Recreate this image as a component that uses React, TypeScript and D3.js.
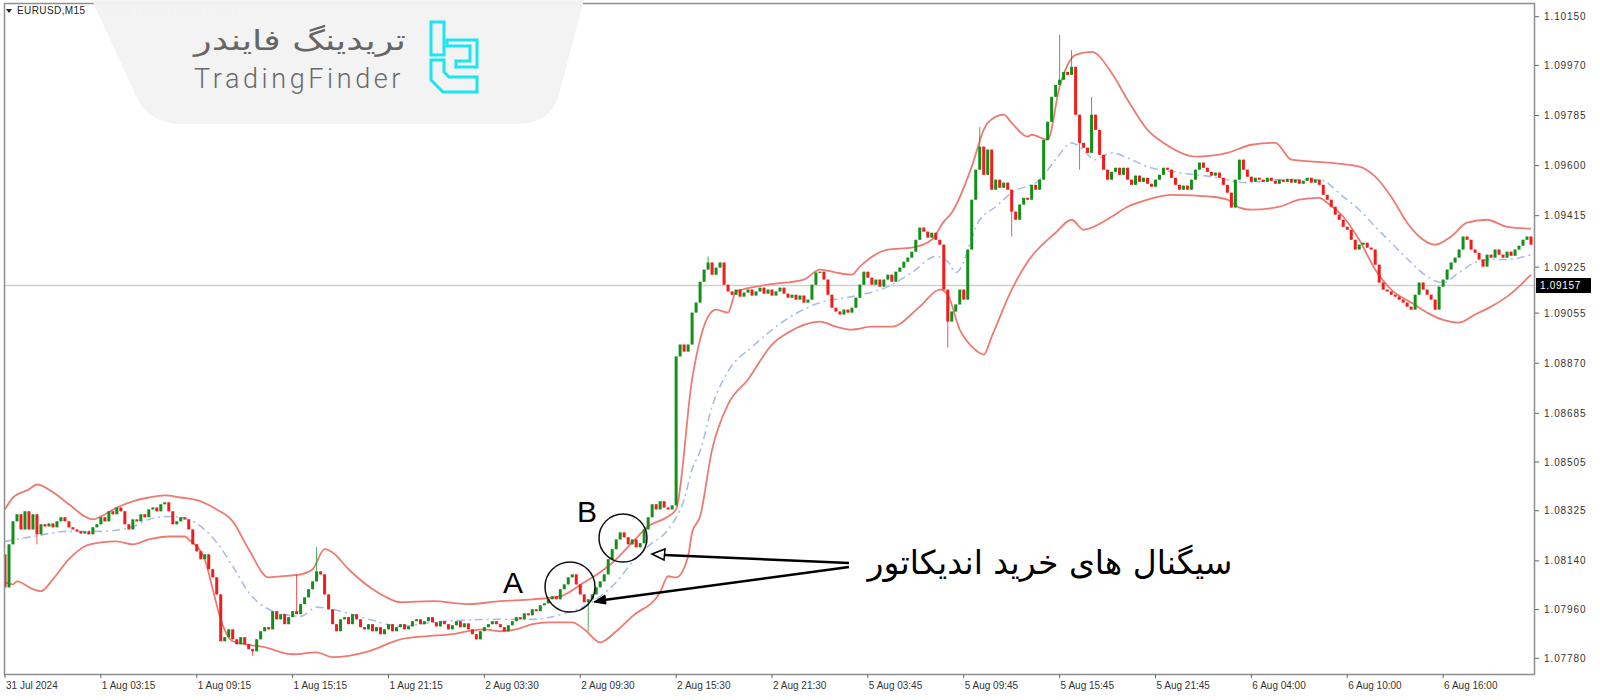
import React from "react";
import * as d3 from "d3";

const symbolTitle = "EURUSD,M15";
const headerFaint = "1.09170 1.09184 1.09147 1.09157";
const yTickLabels = ["1.10150","1.09970","1.09785","1.09600","1.09415","1.09225","1.09055","1.08870","1.08685","1.08505","1.08325","1.08140","1.07960","1.07780"];
const xTickLabels = ["31 Jul 2024","1 Aug 03:15","1 Aug 09:15","1 Aug 15:15","1 Aug 21:15","2 Aug 03:30","2 Aug 09:30","2 Aug 15:30","2 Aug 21:30","5 Aug 03:45","5 Aug 09:45","5 Aug 15:45","5 Aug 21:45","6 Aug 04:00","6 Aug 10:00","6 Aug 16:00"];
const barsPerLabel = 24;
const bidPrice = 1.09157;
const firstOpen = 1.08164;

const closes = [
1.08042,1.08201,1.08286,1.08312,1.08256,1.08323,1.08256,1.08312,1.08238,1.08275,
1.08267,1.08278,1.08264,1.08286,1.08301,1.08286,1.08264,1.08256,1.08249,1.08241,
1.08249,1.08238,1.08264,1.08275,1.08301,1.08286,1.08323,1.08312,1.08337,1.08323,
1.08275,1.08256,1.08293,1.08286,1.08312,1.08301,1.08330,1.08337,1.08323,1.08349,
1.08356,1.08323,1.08275,1.08286,1.08301,1.08293,1.08256,1.08201,1.08175,1.08146,
1.08164,1.08109,1.08079,1.08016,1.07843,1.07858,1.07887,1.07850,1.07832,1.07858,
1.07832,1.07814,1.07806,1.07850,1.07880,1.07895,1.07887,1.07954,1.07924,1.07943,
1.07906,1.07932,1.07954,1.07943,1.07980,1.08005,1.08035,1.08064,1.08101,1.08090,
1.08016,1.07961,1.07906,1.07880,1.07924,1.07932,1.07906,1.07943,1.07924,1.07895,
1.07887,1.07906,1.07880,1.07895,1.07869,1.07887,1.07906,1.07880,1.07895,1.07906,
1.07887,1.07898,1.07917,1.07924,1.07906,1.07917,1.07932,1.07913,1.07898,1.07917,
1.07906,1.07887,1.07902,1.07917,1.07895,1.07909,1.07887,1.07869,1.07850,1.07880,
1.07895,1.07906,1.07917,1.07906,1.07895,1.07880,1.07902,1.07917,1.07932,1.07924,
1.07946,1.07939,1.07961,1.07954,1.07976,1.07983,1.07998,1.08009,1.07998,1.08035,
1.08053,1.08079,1.08090,1.08053,1.08016,1.07987,1.07998,1.08016,1.08042,1.08064,
1.08090,1.08146,1.08183,1.08219,1.08245,1.08227,1.08201,1.08219,1.08190,1.08205,
1.08256,1.08301,1.08349,1.08330,1.08360,1.08337,1.08330,1.08345,1.08895,1.08939,
1.08913,1.08939,1.09057,1.09094,1.09171,1.09216,1.09242,1.09197,1.09223,1.09242,
1.09160,1.09135,1.09123,1.09142,1.09116,1.09131,1.09142,1.09120,1.09135,1.09149,
1.09127,1.09142,1.09120,1.09135,1.09149,1.09127,1.09112,1.09123,1.09105,1.09120,
1.09094,1.09105,1.09160,1.09205,1.09208,1.09179,1.09123,1.09075,1.09061,1.09050,
1.09068,1.09057,1.09075,1.09112,1.09160,1.09208,1.09186,1.09160,1.09179,1.09153,
1.09179,1.09197,1.09171,1.09208,1.09223,1.09245,1.09260,1.09282,1.09326,1.09371,
1.09356,1.09334,1.09352,1.09326,1.09308,1.09142,1.09024,1.09061,1.09087,1.09142,
1.09105,1.09290,1.09474,1.09585,1.09670,1.09566,1.09659,1.09511,1.09548,1.09518,
1.09537,1.09511,1.09430,1.09400,1.09456,1.09481,1.09474,1.09529,1.09511,1.09548,
1.09695,1.09762,1.09854,1.09898,1.09917,1.09946,1.09935,1.09965,1.09788,1.09684,
1.09666,1.09647,1.09788,1.09732,1.09640,1.09585,1.09548,1.09577,1.09592,1.09566,
1.09592,1.09548,1.09529,1.09563,1.09540,1.09555,1.09533,1.09522,1.09548,1.09566,
1.09592,1.09585,1.09555,1.09529,1.09511,1.09526,1.09511,1.09548,1.09585,1.09611,
1.09592,1.09577,1.09563,1.09574,1.09555,1.09529,1.09500,1.09445,1.09548,1.09622,
1.09585,1.09559,1.09540,1.09555,1.09548,1.09540,1.09555,1.09544,1.09533,1.09548,
1.09540,1.09551,1.09537,1.09548,1.09533,1.09544,1.09555,1.09537,1.09548,1.09529,
1.09492,1.09474,1.09448,1.09419,1.09400,1.09374,1.09363,1.09326,1.09290,1.09308,
1.09315,1.09297,1.09290,1.09234,1.09168,1.09142,1.09135,1.09123,1.09116,1.09105,
1.09094,1.09079,1.09068,1.09123,1.09168,1.09142,1.09123,1.09105,1.09068,1.09153,
1.09179,1.09216,1.09242,1.09260,1.09290,1.09338,1.09326,1.09290,1.09278,1.09253,
1.09227,1.09271,1.09260,1.09290,1.09271,1.09260,1.09282,1.09267,1.09290,1.09304,
1.09326,1.09338,1.09308
];

// [bar, high, low] for the longer wicks visible in the picture
const wicks: [number, number | null, number | null][] = [
  [8, null, 1.08201], [62, null, 1.07788], [73, 1.0809, null], [78, 1.0819, null],
  [146, null, 1.0788], [176, 1.09264, null], [236, null, 1.08928], [244, 1.09743, null],
  [252, null, 1.09338], [264, 1.10083, null], [267, 1.10027, null], [269, null, 1.09585],
  [272, 1.09854, null],
];

const upperBand: [number, number][] = [
[0,1.0833],[2,1.08374],[6,1.08404],[8,1.08422],[12,1.08393],[16,1.08349],[20,1.08304],[22,1.08293],
[24,1.08304],[28,1.08337],[32,1.0836],[36,1.08374],[40,1.08382],[44,1.08374],[49,1.0836],[53,1.0833],
[57,1.08286],[61,1.08183],[66,1.08079],[69,1.08083],[74,1.0809],[77,1.08109],[80,1.08183],[82,1.08171],
[86,1.08109],[91,1.08046],[95,1.08009],[99,1.07987],[107,1.07991],[116,1.0798],[124,1.07991],[132,1.07998],
[139,1.08009],[145,1.08061],[149,1.08098],[153,1.08146],[157,1.08208],[161,1.08267],[166,1.08304],[168,1.0833],
[172,1.0881],[176,1.09042],[178,1.09068],[181,1.09057],[183,1.09135],[191,1.0916],[200,1.09179],[204,1.09216],
[208,1.09205],[212,1.09197],[214,1.09227],[221,1.0929],[227,1.09297],[232,1.09326],[235,1.09393],[237,1.09426],
[242,1.09596],[245,1.09732],[246,1.09758],[250,1.09788],[252,1.09758],[256,1.09707],[257,1.09714],[261,1.09695],
[264,1.09891],[268,1.10009],[272,1.1002],[277,1.09943],[281,1.09843],[286,1.09732],[290,1.09684],[298,1.09633],
[306,1.09647],[312,1.09677],[318,1.09684],[322,1.09622],[331,1.09611],[339,1.09596],[343,1.09559],[347,1.09485],
[351,1.09389],[354,1.09338],[358,1.09308],[362,1.09338],[366,1.09389],[371,1.094],[376,1.09374],[382,1.09367]
];

const middleBand: [number, number][] = [
[0,1.08212],[7,1.0823],[16,1.08249],[24,1.08249],[32,1.08267],[36,1.08293],[41,1.08304],[46,1.08293],
[49,1.08267],[53,1.08208],[57,1.0812],[61,1.08024],[66,1.07961],[74,1.07935],[78,1.07969],[82,1.07961],
[91,1.07924],[99,1.07898],[107,1.07913],[124,1.07924],[132,1.07924],[141,1.0795],[145,1.07972],[149,1.08009],
[153,1.08061],[157,1.08135],[161,1.08194],[166,1.08256],[170,1.08367],[172,1.08478],[174,1.08545],[177,1.0871],
[181,1.0884],[187,1.0893],[193,1.09005],[204,1.09094],[212,1.09116],[221,1.09153],[227,1.09205],[233,1.09264],[236,1.09245],
[238,1.09205],[244,1.094],[248,1.09448],[252,1.095],[259,1.09548],[263,1.09622],[267,1.09684],[269,1.0967],
[273,1.09622],[277,1.09647],[282,1.09622],[286,1.09596],[294,1.09574],[302,1.09559],[311,1.09537],[319,1.09548],
[329,1.09548],[335,1.09485],[339,1.09437],[343,1.09374],[347,1.09315],[352,1.09242],[356,1.0919],[360,1.09168],
[364,1.09205],[368,1.09242],[372,1.09253],[376,1.09253],[382,1.09271]
];

const lowerBand: [number, number][] = [
[0,1.08061],[2,1.08053],[3,1.08064],[7,1.08035],[9,1.08028],[12,1.08072],[16,1.08146],[20,1.08194],
[24,1.08208],[28,1.08212],[32,1.08201],[36,1.08219],[41,1.0823],[45,1.0823],[46,1.08219],[50,1.08146],
[52,1.08035],[54,1.07924],[57,1.07843],[65,1.07821],[72,1.07795],[78,1.07802],[82,1.07784],[91,1.07806],
[99,1.0785],[106,1.07862],[112,1.07869],[116,1.0788],[120,1.07887],[124,1.0788],[128,1.07887],[132,1.07906],
[136,1.07913],[142,1.07913],[145,1.07887],[149,1.07839],[153,1.0788],[157,1.07935],[164,1.08024],[166,1.08083],
[168,1.08079],[171,1.08157],[172,1.08245],[174,1.08304],[177,1.08551],[181,1.08718],[186,1.0881],[192,1.08939],
[196,1.08983],[204,1.09024],[208,1.09005],[212,1.08994],[217,1.09005],[222,1.09005],[229,1.09079],[234,1.09142],
[236,1.09123],[239,1.08994],[242,1.08932],[245,1.08902],[247,1.08968],[252,1.09142],[256,1.09245],[263,1.09352],
[267,1.094],[270,1.09363],[277,1.09411],[281,1.09448],[286,1.09474],[292,1.09492],[302,1.09485],[306,1.09474],
[309,1.09445],[312,1.09437],[319,1.09448],[324,1.09474],[329,1.09481],[331,1.09463],[335,1.09411],[339,1.09326],
[343,1.09216],[347,1.09142],[352,1.09094],[356,1.09057],[360,1.0903],[364,1.0902],[368,1.0905],[372,1.09079],
[376,1.09116],[382,1.09197]
];

const annotationText = "سیگنال های خرید اندیکاتور";
const logoFa = "تریدینگ فایندر";
const logoEn = "TradingFinder";

const GREEN = "#12901a";
const RED = "#f21c1c";
const BAND = "#ec7b72";
const MID = "#a9bde9";
const CYAN = "#1ae6f0";

export default function App() {
  const left = 4, right = 1535, top = 3, bottom = 674;
  const x = d3.scaleLinear().domain([0, closes.length - 1]).range([5, 1531]);
  const y = d3.scaleLinear().domain([1.0778, 1.1015]).range([658.3, 16.7]);

  const candles = closes.map((c, i) => {
    const o = i === 0 ? firstOpen : closes[i - 1];
    const w = wicks.find((k) => k[0] === i);
    const hi = Math.max(o, c, w && w[1] != null ? (w[1] as number) : -Infinity);
    const lo = Math.min(o, c, w && w[2] != null ? (w[2] as number) : Infinity);
    return { i, o, c, hi, lo };
  });

  const line = d3
    .line<[number, number]>()
    .x((d) => x(d[0]))
    .y((d) => y(d[1]))
    .curve(d3.curveMonotoneX);

  const bidY = y(bidPrice);
  const bw = 3;

  return (
    <svg width={1600} height={700} style={{ display: "block", position: "absolute", left: 0, top: 0, background: "#fff" }}>
      <defs>
        <clipPath id="plot">
          <rect x={left} y={top} width={right - left} height={bottom - top} />
        </clipPath>
      </defs>
      <rect x={0} y={0} width={1600} height={700} fill="#fff" />

      {/* bid line */}
      <line x1={left} x2={right} y1={bidY} y2={bidY} stroke="#cfcfcf" strokeWidth={1.5} />

      <g clipPath="url(#plot)">
        <path d={line(upperBand) || ""} fill="none" stroke={BAND} strokeWidth={1.8} />
        <path d={line(lowerBand) || ""} fill="none" stroke={BAND} strokeWidth={1.8} />
        <path d={line(middleBand) || ""} fill="none" stroke={MID} strokeWidth={1.6} strokeDasharray="8 4 2 4" />
        {candles.map((k) => {
          const col = k.c >= k.o ? GREEN : RED;
          const cx = x(k.i);
          const yt = y(Math.max(k.o, k.c));
          const yb = y(Math.min(k.o, k.c));
          return (
            <g key={k.i}>
              <line x1={cx} x2={cx} y1={y(k.hi)} y2={y(k.lo)} stroke={col} strokeWidth={1} opacity={0.75} />
              <rect x={cx - bw / 2} y={yt} width={bw} height={Math.max(1.2, yb - yt)} fill={col} />
            </g>
          );
        })}
      </g>

      {/* frame */}
      <rect x={left + 0.5} y={top + 0.5} width={right - left - 1} height={bottom - top} fill="none" stroke="#8e8e8e" strokeWidth={1.5} />

      {/* y axis */}
      {yTickLabels.map((t) => {
        const yy = y(parseFloat(t));
        return (
          <g key={t}>
            <line x1={right} x2={right + 4} y1={yy} y2={yy} stroke="#666" strokeWidth={1} />
            <text x={1544} y={yy + 3.6} fontSize={10} fontFamily="Liberation Sans, Arial, sans-serif" letterSpacing={0.9} fill="#333">{t}</text>
          </g>
        );
      })}
      {/* bid label */}
      <rect x={1536} y={bidY - 7.5} width={55} height={15} fill="#000" />
      <text x={1540} y={bidY + 3.6} fontSize={10} fontFamily="Liberation Sans, Arial, sans-serif" letterSpacing={0.7} fill="#fff">{bidPrice.toFixed(5)}</text>

      {/* x axis */}
      {xTickLabels.map((t, k) => {
        const xx = x(k * barsPerLabel);
        return (
          <g key={t}>
            <line x1={xx} x2={xx} y1={bottom} y2={bottom + 4} stroke="#666" strokeWidth={1} />
            <text x={xx + 1} y={689} fontSize={10} fontFamily="Liberation Sans, Arial, sans-serif" fill="#333">{t}</text>
          </g>
        );
      })}

      {/* header */}
      <path d="M6,9 L12,9 L9,13 Z" fill="#222" />
      <text x={17} y={14} fontSize={10} fontFamily="Liberation Sans, Arial, sans-serif" letterSpacing={0.4} fill="#222">{symbolTitle}</text>
      <text x={100} y={14} fontSize={9} fontFamily="Liberation Sans, Arial, sans-serif" fill="#999">{headerFaint}</text>

      {/* logo panel */}
      <path d="M92,0 L136,96 Q148,124 182,124 L518,124 Q548,124 558,98 L584,0 Z" fill="#f3f3f3" opacity={0.97} />
      <text x={194} y={50} fontSize={28} textLength={212} lengthAdjust="spacingAndGlyphs" fontFamily="DejaVu Sans, sans-serif" fill="#666">{logoFa}</text>
      <text x={194} y={88} fontSize={27} fontFamily="Roboto, Liberation Sans, sans-serif" fontWeight={300} letterSpacing={3.6} fill="#6a6a6a">{logoEn}</text>
      <g fill="none" stroke={CYAN} strokeWidth={3} strokeLinejoin="miter">
        <path d="M431,22 H444 V55 H431 Z" />
        <path d="M447,40 H477 V67 H456 V61 H470 V46 H447 Z" />
        <path d="M431,60 V80 L443,92 H477 V77 H449 L444,72 V60 Z" />
      </g>

      {/* annotations */}
      <circle cx={570} cy={587} r={25} fill="none" stroke="#111" strokeWidth={1.5} />
      <circle cx={623} cy={538} r={24} fill="none" stroke="#111" strokeWidth={1.5} />
      <text x={513} y={593} fontSize={30} textAnchor="middle" fontFamily="Liberation Sans, Arial, sans-serif" fill="#000">A</text>
      <text x={587} y={522} fontSize={30} textAnchor="middle" fontFamily="Liberation Sans, Arial, sans-serif" fill="#000">B</text>
      <line x1={849} y1={563} x2={664} y2={555} stroke="#000" strokeWidth={2.5} />
      <path d="M652,554 L665,549 L664,560 Z" fill="#fff" stroke="#000" strokeWidth={1.5} />
      <line x1={849} y1={567} x2={604} y2={600} stroke="#000" strokeWidth={2.5} />
      <path d="M594,602 L605,595 L606,604 Z" fill="#000" stroke="#000" strokeWidth={1} />
      <text x={1050} y={574} fontSize={33} textAnchor="middle" fontFamily="DejaVu Sans, sans-serif" fill="#000">{annotationText}</text>
    </svg>
  );
}
